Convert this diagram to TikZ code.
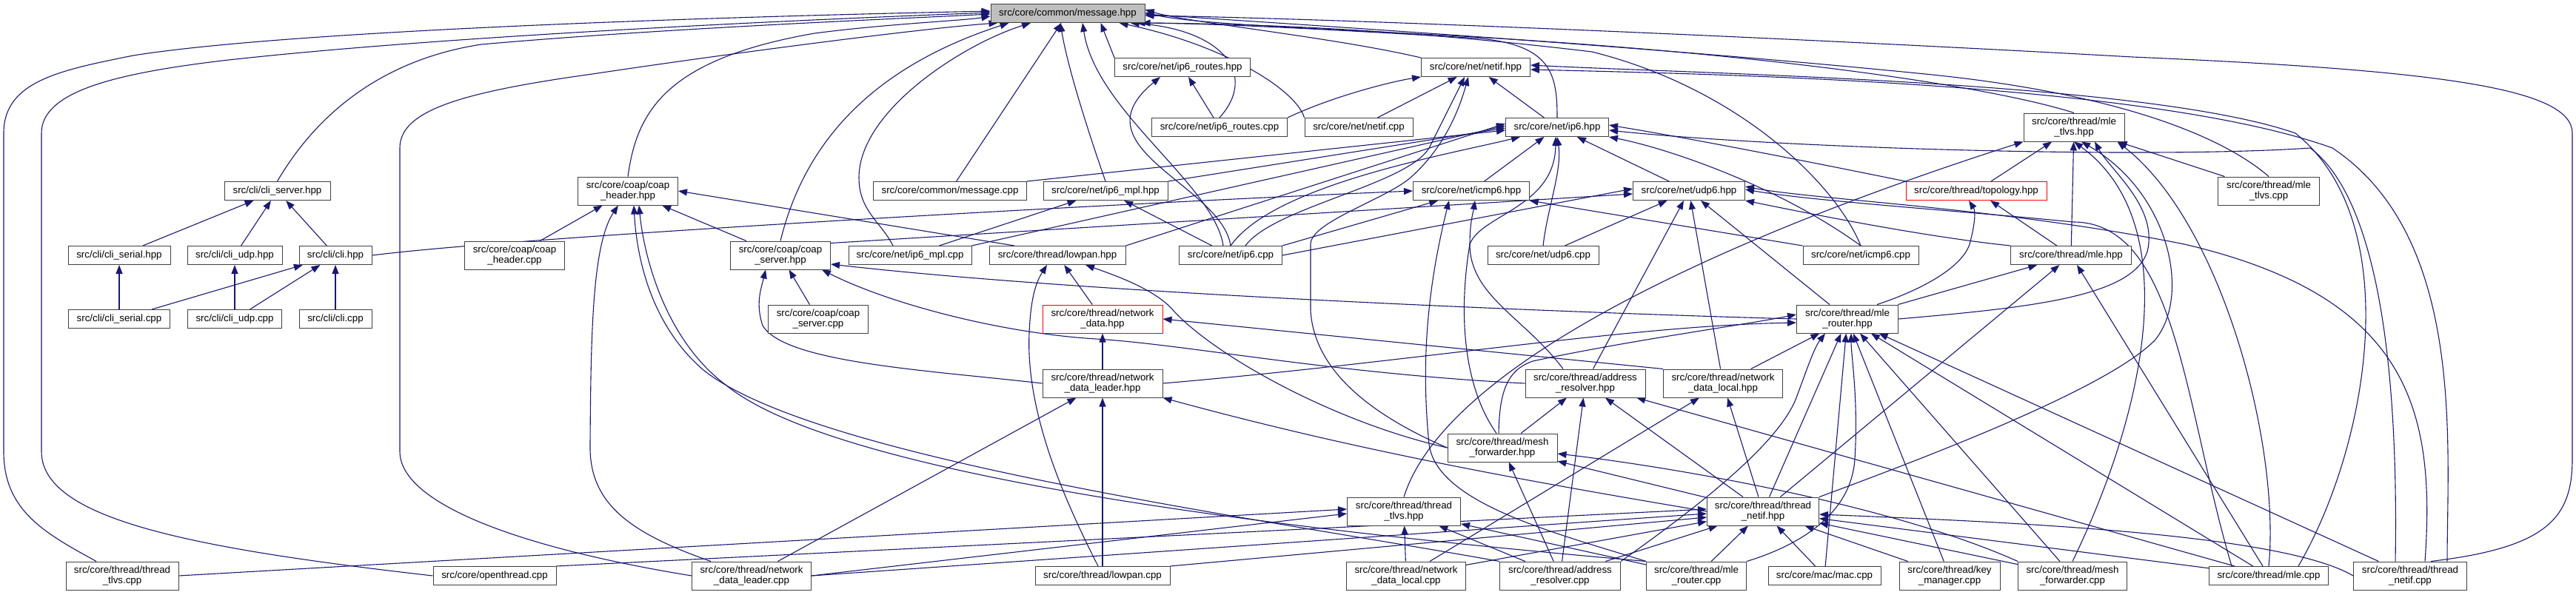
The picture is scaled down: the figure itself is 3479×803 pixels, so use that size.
\documentclass[tikz,border=0pt]{standalone}
\usepackage{fontspec}
\setmainfont{Liberation Sans}
\usetikzlibrary{arrows.meta}
\definecolor{edgec}{HTML}{191970}
\pgfdeclarelayer{bglayer}
\pgfdeclarelayer{edgelayer}
\pgfsetlayers{bglayer,edgelayer,main}
\begin{document}
\begin{tikzpicture}[x=1pt,y=-1pt,
 box/.style={draw=black!75, line width=1pt, fill=white, inner sep=0pt, minimum height=25pt, font=\fontsize{13.3}{13.5}\selectfont, align=center},
 two/.style={minimum height=38pt},
 e/.style={draw=edgec, line width=1.1pt, -{Triangle[length=12pt,width=9pt]}}]
\begin{pgfonlayer}{bglayer}
\fill[white] (0,0) rectangle (3479,803);
\end{pgfonlayer}
\useasboundingbox (0,0) rectangle (3479,803);
% nodes
\node[box,fill=gray!50,minimum width=208pt] (msg) at (1442,18) {src/core/common/message.hpp};
\node[box,minimum width=143pt] (clisrv) at (374.5,258) {src/cli/cli\_server.hpp};
\node[box,minimum width=138pt] (cliserh) at (161,345) {src/cli/cli\_serial.hpp};
\node[box,minimum width=128pt] (cliudph) at (317,345) {src/cli/cli\_udp.hpp};
\node[box,minimum width=98pt] (clih) at (453,345) {src/cli/cli.hpp};
\node[box,minimum width=137pt] (cliserc) at (161,431) {src/cli/cli\_serial.cpp};
\node[box,minimum width=127pt] (cliudpc) at (317,431) {src/cli/cli\_udp.cpp};
\node[box,minimum width=98pt] (clic) at (453,431) {src/cli/cli.cpp};
\node[box,two,minimum width=152pt] (ttlvc) at (165,778) {src/core/thread/thread\\\_tlvs.cpp};
\node[box,two,minimum width=135pt] (coaphh) at (848,258) {src/core/coap/coap\\\_header.hpp};
\node[box,two,minimum width=135pt] (coaphc) at (695,345) {src/core/coap/coap\\\_header.cpp};
\node[box,two,minimum width=135pt] (coapsh) at (1054,345) {src/core/coap/coap\\\_server.hpp};
\node[box,two,minimum width=135pt] (coapsc) at (1105,431) {src/core/coap/coap\\\_server.cpp};
\node[box,minimum width=166pt] (otc) at (668,778) {src/core/openthread.cpp};
\node[box,two,minimum width=161pt] (ndlc) at (1015,778) {src/core/thread/network\\\_data\_leader.cpp};
\node[box,minimum width=183pt] (rth) at (1597,91) {src/core/net/ip6\_routes.hpp};
\node[box,minimum width=183pt] (rtc) at (1647,172) {src/core/net/ip6\_routes.cpp};
\node[box,minimum width=207pt] (msgc) at (1283,258) {src/core/common/message.cpp};
\node[box,minimum width=168pt] (mplh) at (1493,258) {src/core/net/ip6\_mpl.hpp};
\node[box,minimum width=166pt] (mplc) at (1229,345) {src/core/net/ip6\_mpl.cpp};
\node[box,minimum width=184pt] (lph) at (1428,345) {src/core/thread/lowpan.hpp};
\node[box,minimum width=139pt] (ip6c) at (1662,345) {src/core/net/ip6.cpp};
\node[box,two,draw=red,minimum width=162pt] (ndh) at (1489,431) {src/core/thread/network\\\_data.hpp};
\node[box,two,minimum width=162pt] (ndlh) at (1489,518) {src/core/thread/network\\\_data\_leader.hpp};
\node[box,minimum width=182pt] (lpc) at (1489,778) {src/core/thread/lowpan.cpp};
\node[box,minimum width=147pt] (netifh) at (1993,91) {src/core/net/netif.hpp};
\node[box,minimum width=146pt] (netifc) at (1835,172) {src/core/net/netif.cpp};
\node[box,minimum width=139pt] (ip6h) at (2103,172) {src/core/net/ip6.hpp};
\node[box,minimum width=157pt] (icmph) at (1987,258) {src/core/net/icmp6.hpp};
\node[box,minimum width=151pt] (udph) at (2281,258) {src/core/net/udp6.hpp};
\node[box,minimum width=150pt] (udpc) at (2084,345) {src/core/net/udp6.cpp};
\node[box,two,minimum width=162pt] (arh) at (2141,518) {src/core/thread/address\\\_resolver.hpp};
\node[box,two,minimum width=161pt] (ndloch) at (2327,518) {src/core/thread/network\\\_data\_local.hpp};
\node[box,two,minimum width=148pt] (mfh) at (2029,605) {src/core/thread/mesh\\\_forwarder.hpp};
\node[box,two,minimum width=153pt] (ttlvh) at (1896,691) {src/core/thread/thread\\\_tlvs.hpp};
\node[box,two,minimum width=151pt] (tnh) at (2381,691) {src/core/thread/thread\\\_netif.hpp};
\node[box,two,minimum width=161pt] (ndlocc) at (1899,778) {src/core/thread/network\\\_data\_local.cpp};
\node[box,two,minimum width=163pt] (arc) at (2107,778) {src/core/thread/address\\\_resolver.cpp};
\node[box,two,minimum width=135pt] (mlerc) at (2291,778) {src/core/thread/mle\\\_router.cpp};
\node[box,two,minimum width=136pt] (mtlvh) at (2801,172) {src/core/thread/mle\\\_tlvs.hpp};
\node[box,draw=red,minimum width=190pt] (topo) at (2669,258) {src/core/thread/topology.hpp};
\node[box,minimum width=156pt] (icmpc) at (2513,345) {src/core/net/icmp6.cpp};
\node[box,minimum width=163pt] (mleh) at (2797,345) {src/core/thread/mle.hpp};
\node[box,two,minimum width=137pt] (mlerh) at (2495,431) {src/core/thread/mle\\\_router.hpp};
\node[box,minimum width=152pt] (macc) at (2464,778) {src/core/mac/mac.cpp};
\node[box,two,minimum width=136pt] (kmc) at (2633,778) {src/core/thread/key\\\_manager.cpp};
\node[box,two,minimum width=147pt] (mfc) at (2799,778) {src/core/thread/mesh\\\_forwarder.cpp};
\node[box,two,minimum width=137pt] (mtlvc) at (3064,258) {src/core/thread/mle\\\_tlvs.cpp};
\node[box,minimum width=161pt] (mlec) at (3064,778) {src/core/thread/mle.cpp};
\node[box,two,minimum width=153pt] (tnc) at (3255,778) {src/core/thread/thread\\\_netif.cpp};
% edges
\begin{pgfonlayer}{edgelayer}
% ---- into message.hpp
\draw[e] ([xshift=-35pt]ttlvc.north) .. controls (60,720) and (5,690) .. (5,610) -- (5,180) .. controls (5,110) and (80,95) .. (180,75) .. controls (400,40) and (1000,22) .. ([yshift=3pt]msg.west);
\draw[e] (otc.west) .. controls (250,740) and (56,700) .. (56,610) -- (56,180) .. controls (56,125) and (150,100) .. (300,82) .. controls (600,48) and (1100,26) .. ([yshift=1pt]msg.west);
\draw[e] (ndlc.west) .. controls (700,740) and (540,680) .. (540,610) -- (540,200) .. controls (540,150) and (620,125) .. (800,100) .. controls (1000,70) and (1250,38) .. ([xshift=10pt]msg.south west);
\draw[e] (clisrv.north) .. controls (430,150) and (520,80) .. (650,60) .. controls (900,38) and (1200,26) .. ([yshift=-1pt]msg.west);
\draw[e] (coaphh.north) .. controls (860,150) and (900,80) .. (1100,45) .. controls (1200,32) and (1300,28) .. ([yshift=-4pt]msg.west);
\draw[e] (coapsh.north) .. controls (1080,220) and (1150,100) .. ([xshift=25pt]msg.south west);
\draw[e] ([xshift=-23pt]mplc.north) .. controls (1190,300) and (1160,285) .. (1160,240) .. controls (1160,150) and (1300,60) .. ([xshift=-50pt]msg.south);
\draw[e] (msgc) -- (msg);
\draw[e] (mplh.north) .. controls (1460,150) and (1440,80) .. ([xshift=-10pt]msg.south);
\draw[e] ([xshift=-10pt]ip6c.north) .. controls (1640,250) and (1480,150) .. ([xshift=20pt]msg.south);
\draw[e] (rth.north west) -- ([xshift=-60pt]msg.south east);
\draw[e] (rtc.north) .. controls (1700,100) and (1650,40) .. ([xshift=-20pt]msg.south east);
\draw[e] (netifc.north west) .. controls (1750,120) and (1650,60) .. ([xshift=-35pt]msg.south east);
\draw[e] (netifh.north west) .. controls (1800,50) and (1600,30) .. ([yshift=5pt]msg.east);
\draw[e] (ip6h.north) .. controls (2103,100) and (2095,62) .. (2000,52) .. controls (1800,40) and (1650,32) .. ([xshift=-5pt]msg.south east);
\draw[e] (icmpc.north) .. controls (2480,250) and (2350,120) .. (2150,70) .. controls (1900,40) and (1700,32) .. ([xshift=-12pt]msg.south east);
\draw[e] (mtlvh.north) .. controls (2700,120) and (2400,70) .. (1900,45) .. controls (1700,35) and (1600,30) .. ([yshift=1pt]msg.east);
\draw[e] (mtlvc.north) .. controls (3020,200) and (2900,130) .. (2600,100) .. controls (2200,60) and (1700,30) .. ([yshift=-1pt]msg.east);
\draw[e] ([xshift=28pt]tnc.north) .. controls (3440,740) and (3474,700) .. (3474,620) -- (3474,180) .. controls (3474,120) and (3300,95) .. (2880,77) .. controls (2400,50) and (1800,25) .. ([yshift=-3pt]msg.east);
% ---- right side long curves
\draw[e] ([xshift=50pt]tnc.north) .. controls (3305,600) and (3330,320) .. (3150,200) .. controls (2900,110) and (2300,100) .. ([yshift=-3pt]netifh.east);
\draw[e] ([xshift=40pt]mlec.north) .. controls (3200,600) and (3250,300) .. (3100,180) .. controls (2900,110) and (2300,100) .. ([yshift=3pt]netifh.east);
\draw[e] ([xshift=-20pt]tnc.north) .. controls (3240,450) and (3200,260) .. (3120,200) .. controls (2900,215) and (2400,200) .. ([yshift=-4pt]ip6h.east);
\draw[e] ([xshift=20pt]tnc.north) .. controls (3290,550) and (3250,400) .. (2950,330) .. controls (2700,280) and (2450,270) .. ([yshift=6pt]udph.east);
\draw[e] ([xshift=-50pt]mlec.north) .. controls (2950,550) and (2940,300) .. (2800,300) .. controls (2650,285) and (2450,272) .. ([yshift=2pt]udph.east);
\draw[e] (topo.north west) .. controls (2450,220) and (2300,190) .. ([yshift=3pt]ip6h.east);
% ---- cli
\draw[e] (cliserh) -- (clisrv);
\draw[e] (cliudph) -- (clisrv);
\draw[e] (clih) -- (clisrv);
\draw[e] (clih.east) .. controls (700,320) and (1500,275) .. (icmph.west);
\draw[e] (cliserc) -- (cliserh);
\draw[e] (cliserc) -- (clih);
\draw[e] (cliudpc) -- (cliudph);
\draw[e] (cliudpc) -- (clih);
\draw[e] (clic) -- (clih);
% ---- coap
\draw[e] (coaphc) -- (coaphh);
\draw[e] (coapsh) -- (coaphh);
\draw[e] ([yshift=-3pt]coapsh.north east) -- ([yshift=-4pt]udph.west);
\draw[e] (coapsc) -- (coapsh);
\draw[e] ([xshift=-58pt]lph.north) -- (coaphh.east);
% ---- net
\draw[e] (msgc.north east) -- ([yshift=-4pt]ip6h.west);
\draw[e] (rtc) -- (rth);
\draw[e] (rtc.north east) .. controls (1800,130) and (1880,110) .. (netifh.south west);
\draw[e] (netifc) -- (netifh);
\draw[e] (ip6h) -- (netifh);
\draw[e] (mplh.north east) -- ([yshift=-1pt]ip6h.west);
\draw[e] (mplc) -- (mplh);
\draw[e] (mplc.north east) -- ([yshift=2pt]ip6h.west);
\draw[e] (lph.north east) -- ([yshift=5pt]ip6h.west);
\draw[e] (ip6c.north) .. controls (1650,250) and (1450,200) .. ([xshift=-30pt]rth.south);
\draw[e] (ip6c) -- (mplh);
\draw[e] (ip6c.north) .. controls (1720,250) and (1950,210) .. ([xshift=-50pt]ip6h.south);
\draw[e] (ip6c.north east) -- (icmph);
\draw[e] (ip6c.east) -- ([yshift=3pt]udph.west);
\draw[e] ([xshift=20pt]ip6c.north) .. controls (1720,280) and (1900,250) .. (1930,200) .. controls (1950,160) and (1965,130) .. ([xshift=-15pt]netifh.south);
\draw[e] (icmph) -- (ip6h);
\draw[e] (udph) -- (ip6h);
\draw[e] (udpc) -- (udph);
\draw[e] (udpc.north) .. controls (2090,280) and (2110,230) .. (ip6h.south);
\draw[e] (icmpc) -- (icmph);
\draw[e] (icmpc.north) .. controls (2400,250) and (2250,200) .. (ip6h.south east);
% ---- mle tlvs / topology / mle
\draw[e] (mtlvc) -- (mtlvh);
\draw[e] (topo) -- (mtlvh);
\draw[e] (mleh) -- (mtlvh);
\draw[e] (mleh) -- (topo);
\draw[e] (mleh.north west) .. controls (2600,320) and (2450,290) .. (udph.south east);
% ---- lowpan / network data
\draw[e] (ndh) -- (lph);
\draw[e] (ndlh) -- (ndh);
\draw[e] (ndlh.west) .. controls (1250,500) and (1060,490) .. (1030,440) .. controls (1020,410) and (1028,390) .. ([xshift=-20pt]coapsh.south);
\draw[e] (ndlh.east) .. controls (1900,490) and (2200,440) .. ([yshift=-5pt]mlerh.west);
% ---- address resolver hpp
\draw[e] (arh.west) .. controls (1800,505) and (1600,465) .. (1480,458) .. controls (1350,450) and (1200,410) .. ([xshift=-12pt]coapsh.south east);
\draw[e] ([xshift=-30pt]arh.north) .. controls (2060,430) and (1985,400) .. (1985,330) .. controls (1985,300) and (1990,285) .. ([xshift=5pt]icmph.south);
\draw[e] (arh) -- (udph);
% ---- network data local hpp
\draw[e] (ndloch.north west) -- (ndh.east);
\draw[e] (ndloch) -- (mlerh);
\draw[e] (ndloch) -- (udph);
% ---- mle router hpp
\draw[e] (mlerh) -- (udph);
\draw[e] ([xshift=40pt]mlerh.north) .. controls (2600,390) and (2650,360) .. (2660,330) .. controls (2668,300) and (2668,285) .. ([xshift=-10pt]topo.south);
\draw[e] (mlerh) -- (mleh);
\draw[e] (mlerh.east) .. controls (2750,415) and (2880,400) .. (2900,340) .. controls (2915,280) and (2850,230) .. ([xshift=28pt]mtlvh.south);
\draw[e] (mlerh.west) .. controls (2200,425) and (1500,400) .. ([yshift=-12pt]coapsh.east);
% ---- mesh forwarder hpp
\draw[e] (mfh.west) .. controls (1800,570) and (1640,480) .. (1585,420) .. controls (1560,390) and (1500,370) .. ([xshift=38pt]lph.south);
\draw[e] (mfh) -- (arh);
\draw[e] ([xshift=-5pt]mfh.north) .. controls (2025,530) and (2035,500) .. (2070,488) .. controls (2200,460) and (2350,440) .. ([yshift=6pt]mlerh.west);
\draw[e] ([xshift=-8pt]mfh.north) .. controls (1975,520) and (1970,420) .. (1985,330) .. controls (2000,290) and (2100,280) .. ([xshift=-2pt]ip6h.south);
\draw[e] (mfh.west) .. controls (1850,560) and (1775,500) .. (1770,420) -- (1770,330) .. controls (1770,300) and (1870,270) .. (1905,240) .. controls (1950,200) and (1970,150) .. ([xshift=-10pt]netifh.south);
% ---- thread tlvs hpp
\draw[e] (ttlvh.north) .. controls (1950,500) and (2300,330) .. (mtlvh.south west);
% ---- thread netif hpp
\draw[e] (tnh) -- (mlerh);
\draw[e] (tnh) -- (arh);
\draw[e] (tnh) -- (mfh);
\draw[e] (tnh) -- (ndloch);
\draw[e] (tnh.west) .. controls (2000,640) and (1800,600) .. (ndlh.south east);
\draw[e] (tnh) -- (mleh);
\draw[e] (tnh.north east) .. controls (2650,600) and (2850,520) .. (2910,460) .. controls (2960,400) and (2930,260) .. ([xshift=10pt]mtlvh.south);
% ---- bottom row
\draw[e] (ttlvc.east) -- ([yshift=3pt]ttlvh.west);
\draw[e] (otc.north east) -- ([yshift=3pt]tnh.west);
\draw[e] ([xshift=-55pt]ndlc.north) .. controls (850,720) and (795,680) .. (797,600) .. controls (798,450) and (800,330) .. ([xshift=-13pt]coaphh.south);
\draw[e] (ndlc) -- (ndlh);
\draw[e] (ndlc.east) -- ([yshift=-3pt]tnh.west);
\draw[e] (ndlc.east) -- ([yshift=-3pt]ttlvh.west);
\draw[e] ([xshift=-6pt]lpc.north) .. controls (1440,680) and (1385,560) .. (1390,450) .. controls (1392,400) and (1400,380) .. ([xshift=-14pt]lph.south);
\draw[e] (lpc) -- (ndlh);
\draw[e] (lpc.north east) -- ([yshift=-8pt]tnh.west);
\draw[e] (ndlocc) -- (ndloch);
\draw[e] (ndlocc) -- (ttlvh);
\draw[e] (ndlocc) -- (tnh);
\draw[e] (arc) -- (arh);
\draw[e] (arc) -- (mfh);
\draw[e] (arc) -- (ttlvh);
\draw[e] (arc) -- (tnh);
\draw[e] (arc.north east) .. controls (2300,680) and (2400,600) .. (2425,540) .. controls (2440,500) and (2450,470) .. ([xshift=-30pt]mlerh.south);
\draw[e] (arc.north west) .. controls (1700,700) and (1100,620) .. (950,500) .. controls (880,440) and (860,350) .. ([xshift=8pt]coaphh.south);
\draw[e] (mlerc.north east) .. controls (2420,740) and (2500,700) .. (2505,620) .. controls (2510,540) and (2500,480) .. ([xshift=5pt]mlerh.south);
\draw[e] (mlerc) -- (ttlvh);
\draw[e] (mlerc) -- (tnh);
\draw[e] (mlerc.north west) .. controls (1900,730) and (1150,660) .. (980,520) .. controls (900,460) and (870,350) .. ([xshift=15pt]coaphh.south);
\draw[e] (mlerc.north west) .. controls (2100,720) and (1940,680) .. (1930,600) .. controls (1920,500) and (1925,400) .. ([xshift=-30pt]icmph.south);
\draw[e] (macc) -- (mlerh);
\draw[e] (macc) -- (tnh);
\draw[e] (kmc) -- (mlerh);
\draw[e] (kmc) -- (tnh);
\draw[e] (mfc.north west) .. controls (2550,680) and (2250,630) .. ([yshift=-8pt]mfh.east);
\draw[e] (mfc) -- (mlerh);
\draw[e] (mfc) -- (tnh);
\draw[e] (mfc.north) .. controls (2900,550) and (2950,300) .. (mtlvh.south);
\draw[e] (mlec) -- (mleh);
\draw[e] (mlec) -- (mlerh);
\draw[e] (mlec) -- (tnh);
\draw[e] (mlec) -- (arh);
\draw[e] (mlec.north) .. controls (3080,600) and (3000,300) .. ([xshift=-10pt]mtlvh.south east);
\draw[e] (tnc.west) .. controls (3080,720) and (2700,705) .. ([yshift=-4pt]tnh.east);
\draw[e] (tnc) -- (mlerh);
\end{pgfonlayer}
\end{tikzpicture}
\end{document}
